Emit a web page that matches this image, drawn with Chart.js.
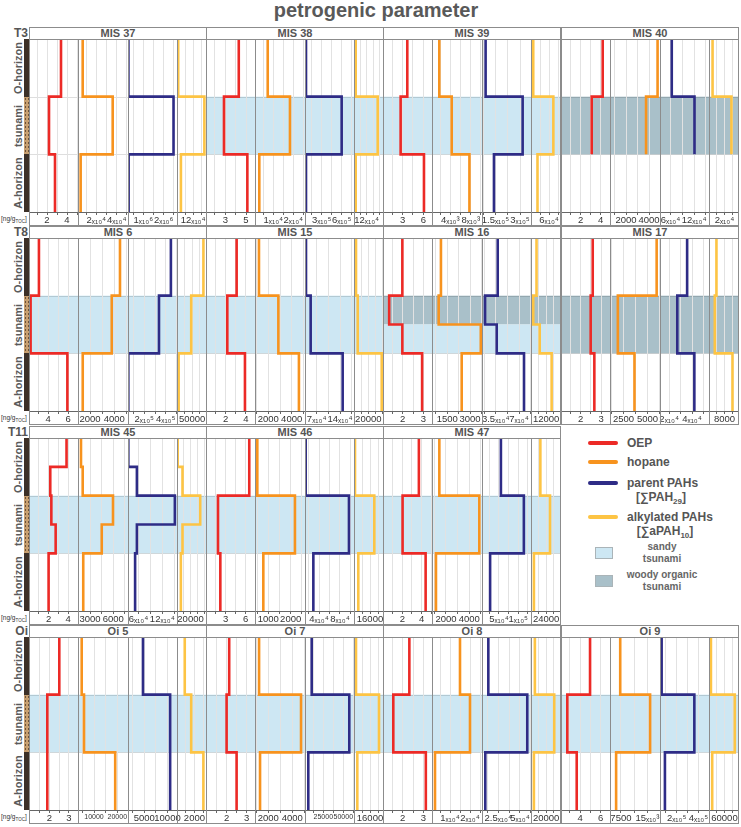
<!DOCTYPE html>
<html>
<head>
<meta charset="utf-8">
<script src="https://cdn.jsdelivr.net/npm/chart.js@4.4.1/dist/chart.umd.min.js"></script>
<style>
  body { margin: 0; background: #fff; font-family: "Liberation Sans", Arial, sans-serif; }
  #fig { position: relative; width: 741px; height: 827px; overflow: hidden; background: #fff; }
  #fig div { position: absolute; }
  canvas { position: absolute; }
  .frame { border: 1px solid #8c8c8c; box-sizing: border-box; z-index: 2; }
  .vline { width: 1px; background: #8c8c8c; z-index: 2; }
  .head { border: 1px solid #8c8c8c; box-sizing: border-box; background: #fff; z-index: 3;
          font-weight: bold; font-size: 11px; color: #555; text-align: center; line-height: 11px; }
  .rowlab { font-weight: bold; font-size: 12px; color: #555; text-align: right; width: 28px; left: 0; line-height: 12px; }
  .zone { font-weight: bold; font-size: 11px; color: #5a5a5a; white-space: nowrap;
          transform: translate(-50%, -50%) rotate(-90deg); }
  .unit { font-size: 6.5px; color: #333; left: 1px; white-space: nowrap; }
  .key { width: 30px; height: 4px; border-radius: 2px; left: 588px; }
  .ltxt { left: 627px; font-weight: bold; font-size: 12px; color: #555; line-height: 14px; white-space: nowrap; }
  .lsub { width: 100px; text-align: center; font-weight: bold; font-size: 12px; color: #555; line-height: 14px; }
  .lbox { left: 595px; width: 18px; height: 12px; border: 1px solid #aab4b8; box-sizing: border-box; }
  .lbtxt { left: 612px; width: 100px; text-align: center; font-weight: bold; font-size: 10px; color: #666; line-height: 12px; }
</style>
</head>
<body>
<div id="fig">
  <div style="left:0;top:-2px;width:752px;text-align:center;font-weight:bold;font-size:20px;color:#595959;line-height:24px;">petrogenic parameter</div>
</div>
<script>
// ================= DATA =================

const rowLabels = ["T3", "T8", "T11", "Oi"];
const panelTitles = [
  "MIS 37", "MIS 38", "MIS 39", "MIS 40",
  "MIS 6", "MIS 15", "MIS 16", "MIS 17",
  "MIS 45", "MIS 46", "MIS 47", null,
  "Oi 5", "Oi 7", "Oi 8", "Oi 9"
];
const zoneNames = ["O-horizon", "tsunami", "A-horizon"];
const seriesNames = ["OEP", "hopane", "parent PAHs", "alkylated PAHs"];

// depth in zone units: 0 top of O-horizon, 1 top of tsunami, 2 top of A-horizon, 3 bottom
const depthBreaks = [
  [0, 1, 2, 3], [0, 1, 2, 3], [0, 1, 2, 3], [0, 1, 2],
  [0, 1, 2, 3], [0, 1, 2, 3], [0, 1, 1.5, 2, 3], [0, 1, 2, 3],
  [0, 0.5, 1, 1.5, 2, 3], [0, 1, 2, 3], [0, 1, 2, 3], null,
  [0, 1, 2, 3], [0, 1, 2, 3], [0, 1, 2, 3], [0, 1, 2, 3]
];

const tsunamiLayers = [
  [], [[1, 2, "sandy"]], [[1, 2, "sandy"]], [[1, 2, "woody"]],
  [[1, 2, "sandy"]], [[1, 2, "sandy"]], [[1, 1.5, "woody"], [1.5, 2, "sandy"]], [[1, 2, "woody"]],
  [[1, 2, "sandy"]], [[1, 2, "sandy"]], [[1, 2, "sandy"]], null,
  [[1, 2, "sandy"]], [[1, 2, "sandy"]], [[1, 2, "sandy"]], [[1, 2, "sandy"]]
];

const oepValues = [
  [3.4, 2.2, 2.8], [4.3, 2.87, 5.13], [3.67, 2.7, 6.1], [4.2, 3.1],
  [3.07, 2.23, 5.93], [3.08, 2.16, 3.9], [1.98, 1.34, 1.98, 2.94], [2.59, 2.49, 2.67],
  [3.83, 2.17, 2.28, 2.72, 2.0], [6.54, 1.85, 2.2], [3.72, 2.03, 4.42], null,
  [2.51, 1.9, 1.9], [2.13, 2.0, 2.5], [2.32, 1.54, 3.12], [4.97, 2.77, 3.68]
];
const hopaneValues = [
  [6600, 36000, 4600], [7200, 18300, 3000], [1840, 4270, 7740], [4740, 3740],
  [4470, 3790, 1400], [1200, 2860, 4620], [1080, 930, 3710, 2450], [5960, 1900, 3640],
  [1840, 2060, 5960, 4510, 2130], [507, 2190, 776], [1430, 4860, 1140], null,
  [4720, 5710, 19100], [1230, 4730, 1310], [15000, 20000, 2500], [7300, 15750, 6140]
];
const parentPahValues = [
  [2.7e5, 2.48e6, 2.8e5], [6.5e4, 6.0e5, 6.5e4], [9.0e4, 3.16e5, 1.41e5], [6.3e4, 1.21e5],
  [4.48e5, 3.37e5, 5.1e4], [3.8e4, 5.2e4, 1.48e5], [3.8e4, 1.9e4, 3.65e4, 7.75e4], [3.57e4, 2.71e4, 4.2e4],
  [3.44e4, 5.6e4, 1.516e5, 5.6e4, 5.15e4], [1.46e4, 9.71e4, 2.92e4], [5.5e4, 1.145e5, 2.7e4], null,
  [4710, 10570, 10570], [10500, 57500, 6250], [1.35e4, 5.84e4, 1.0e4], [6.3e4, 3.62e5, 9.3e4]
];
const alkylPahValues = [
  [9000, 2.03e5, 2.9e4], [1.6e4, 2.24e5, 1.6e4], [7400, 7.4e4, 2.15e4], [4600, 2.9e4],
  [87000, 46800, 5400], [2800, 5200, 38700], [4360, 1760, 6880, 16300], [3850, 3000, 12150],
  [1000, 8140, 34300, 8140, 5710], [1000, 20300, 4300], [14800, 30100, 4600], null,
  [890, 1630, 3030], [2000, 25000, 3300], [5100, 30600, 3800], [7500, 100000, 12400]
];

// axis [min, max, grid step]
const oepRange = [
  [0.2, 5.1, 1], [1.13, 5.87, 1], [0.13, 7.27, 1.5], [0.03, 4.93, 1],
  [2.07, 7, 1], [0.06, 4.89, 1], [1.04, 3.42, 0.5], [1.03, 3.44, 0.5],
  [0, 5, 1], [0.05, 7.4, 1.5], [0, 5.08, 1], null,
  [0.97, 3.46, 0.5], [0.97, 3.42, 0.5], [1.04, 3.42, 0.5], [2.16, 6.9, 1]
];
const hopaneRange = [
  [2000, 51000, 10000], [850, 25800, 5000], [410, 10200, 2000], [610, 4950, 1000],
  [1010, 5130, 1000], [860, 5140, 1000], [490, 3790, 750], [1080, 6310, 1250],
  [1455, 7890, 1500], [404, 2640, 500], [800, 5090, 1000], null,
  [3130, 24590, 5000], [890, 5060, 1000], [1000, 26000, 5000], [4410, 18550, 3750]
];
const parentPahRange = [
  [2.5e5, 2.65e6, 5e5], [5e4, 7.85e5, 1.5e5], [6.8e4, 3.67e5, 7.5e4], [3.3e4, 1.58e5, 3e4],
  [4.8e4, 5.05e5, 1e5], [3.5e4, 1.82e5, 3.5e4], [1.44e4, 8.8e4, 1.75e4], [1.2e4, 5.48e4, 1e4],
  [3.36e4, 1.57e5, 3e4], [1.33e4, 1.067e5, 2e4], [6e3, 1.33e5, 2.5e4], null,
  [1480, 12050, 2500], [2130, 63380, 12500], [6200, 62700, 12500], [4.8e4, 4.96e5, 1e5]
];
const alkylPahRange = [
  [0, 2.15e5, 6e4], [0, 2.74e5, 6e4], [0, 9.6e4, 3e4], [0, 3.75e4, 1e4],
  [0, 95500, 25000], [0, 40500, 10000], [0, 22900, 6000], [0, 15000, 4000],
  [0, 42860, 10000], [0, 29000, 8000], [0, 45900, 12000], null,
  [0, 3330, 1000], [0, 29000, 8000], [0, 38200, 10000], [0, 112500, 30000]
];

// labelled ticks [value, text]
const oepTicks = [
  [[2, "2"], [4, "4"]], [[3, "3"], [5, "5"]], [[3, "3"], [6, "6"]], [[2, "2"], [4, "4"]],
  [[4, "4"], [6, "6"]], [[2, "2"], [4, "4"]], [[2, "2"], [3, "3"]], [[2, "2"], [3, "3"]],
  [[2, "2"], [4, "4"]], [[3, "3"], [6, "6"]], [[2, "2"], [4, "4"]], null,
  [[2, "2"], [3, "3"]], [[2, "2"], [3, "3"]], [[2, "2"], [3, "3"]], [[4, "4"], [6, "6"]]
];
const hopaneTicks = [
  [[2e4, "2ₓ₁₀⁴"], [4e4, "4ₓ₁₀⁴"]], [[1e4, "1ₓ₁₀⁴"], [2e4, "2ₓ₁₀⁴"]], [[4000, "4ₓ₁₀³"], [8000, "8ₓ₁₀³"]], [[2000, "2000"], [4000, "4000"]],
  [[2000, "2000"], [4000, "4000"]], [[2000, "2000"], [4000, "4000"]], [[1500, "1500"], [3000, "3000"]], [[2500, "2500"], [5000, "5000"]],
  [[3000, "3000"], [6000, "6000"]], [[1000, "1000"], [2000, "2000"]], [[2000, "2000"], [4000, "4000"]], null,
  [[10000, "10000"], [20000, "20000"]], [[2000, "2000"], [4000, "4000"]], [[1e4, "1ₓ₁₀⁴"], [2e4, "2ₓ₁₀⁴"]], [[7500, "7500"], [15000, "15ₓ₁₀³"]]
];
const parentPahTicks = [
  [[1e6, "1ₓ₁₀⁶"], [2e6, "2ₓ₁₀⁶"]], [[3e5, "3ₓ₁₀⁵"], [6e5, "6ₓ₁₀⁵"]], [[1.5e5, "1.5ₓ₁₀⁵"], [3e5, "3ₓ₁₀⁵"]], [[6e4, "6ₓ₁₀⁴"], [1.2e5, "12ₓ₁₀⁴"]],
  [[2e5, "2ₓ₁₀⁵"], [4e5, "4ₓ₁₀⁵"]], [[7e4, "7ₓ₁₀⁴"], [1.4e5, "14ₓ₁₀⁴"]], [[3.5e4, "3.5ₓ₁₀⁴"], [7e4, "7ₓ₁₀⁴"]], [[2e4, "2ₓ₁₀⁴"], [4e4, "4ₓ₁₀⁴"]],
  [[6e4, "6ₓ₁₀⁴"], [1.2e5, "12ₓ₁₀⁴"]], [[4e4, "4ₓ₁₀⁴"], [8e4, "8ₓ₁₀⁴"]], [[5e4, "5ₓ₁₀⁴"], [1e5, "1ₓ₁₀⁵"]], null,
  [[5000, "5000"], [10000, "10000"]], [[25000, "25000"], [50000, "50000"]], [[2.5e4, "2.5ₓ₁₀⁴"], [5e4, "5ₓ₁₀⁴"]], [[2e5, "2ₓ₁₀⁵"], [4e5, "4ₓ₁₀⁵"]]
];
const alkylPahTicks = [
  [[1.2e5, "12ₓ₁₀⁴"]], [[1.2e5, "12ₓ₁₀⁴"]], [[6e4, "6ₓ₁₀⁴"]], [[2e4, "2ₓ₁₀⁴"]],
  [[50000, "50000"]], [[20000, "20000"]], [[12000, "12000"]], [[8000, "8000"]],
  [[20000, "20000"]], [[16000, "16000"]], [[24000, "24000"]], null,
  [[2000, "2000"]], [[16000, "16000"]], [[20000, "20000"]], [[60000, "60000"]]
];

// ================= STYLE / LAYOUT =================

const seriesColors = ["#ec2a26", "#f7931e", "#2e2c86", "#fdc444"];
const layerColors = { sandy: "#cde7f3", woody: "#a9c0c9" };
const SMALL_TICKS = { "12-1": 7, "13-2": 7 };

const ROW_TOP = [27, 226, 426, 625];
const HEAD_H = 12, PLOT_H = 173, AXIS_H = 13;
const PANEL_LEFT = [29, 206, 383, 561];
const SUB_EDGES = [0, 49, 99, 148, 177];
const PAD = 14;

Chart.defaults.font.family = '"Liberation Sans", Arial, sans-serif';

const fig = document.getElementById("fig");

function addDiv(cls, style, html) {
  const d = document.createElement("div");
  if (cls) d.className = cls;
  Object.assign(d.style, style);
  if (html !== undefined) d.innerHTML = html;
  fig.appendChild(d);
  return d;
}

function stepPoints(breaks, values) {
  const pts = [];
  values.forEach((v, i) => {
    pts.push({ x: v, y: breaks[i] }, { x: v, y: breaks[i + 1] });
  });
  return pts;
}

function makeLayerPlugin(layers) {
  return {
    id: "layers",
    beforeDraw(chart) {
      const { ctx, chartArea: a, scales: { y } } = chart;
      ctx.save();
      layers.forEach(([d0, d1, kind]) => {
        const y0 = y.getPixelForValue(d0), y1 = y.getPixelForValue(d1);
        ctx.fillStyle = layerColors[kind];
        ctx.fillRect(a.left, y0, a.right - a.left, y1 - y0);
      });
      ctx.strokeStyle = "rgba(0,0,0,0.13)";
      ctx.lineWidth = 1;
      [1, 2].forEach(d => {
        const yy = Math.round(y.getPixelForValue(d)) + 0.5;
        ctx.beginPath();
        ctx.moveTo(a.left, yy);
        ctx.lineTo(a.right, yy);
        ctx.stroke();
      });
      ctx.restore();
    }
  };
}

// ================= ROWS =================

const seriesValues = [oepValues, hopaneValues, parentPahValues, alkylPahValues];
const seriesRanges = [oepRange, hopaneRange, parentPahRange, alkylPahRange];
const seriesTicks = [oepTicks, hopaneTicks, parentPahTicks, alkylPahTicks];

rowLabels.forEach((lab, r) => {
  const plotTop = ROW_TOP[r] + HEAD_H;
  addDiv("rowlab", { top: ROW_TOP[r] + "px" }, lab);
  addDiv("unit", { top: (plotTop + PLOT_H + 3) + "px" }, "[ng/g<sub style='font-size:4.5px'>TOC</sub>]");
  zoneNames.forEach((z, i) => {
    const h = PLOT_H / 3;
    addDiv("zone", { left: "18px", top: (plotTop + (i + 0.5) * h) + "px" }, z);
    addDiv("", {
      left: "24px", width: "5px", top: (plotTop + i * h) + "px", height: h + "px",
      background: i === 1
        ? "radial-gradient(circle, #6b5038 0.5px, transparent 0.9px) 0 0 / 3px 4px, #c79f70"
        : "#3c3028"
    });
  });
});

// ================= PANELS =================

panelTitles.forEach((title, p) => {
  if (!title) return;
  const r = Math.floor(p / 4), c = p % 4;
  const plotTop = ROW_TOP[r] + HEAD_H;
  const left = PANEL_LEFT[c];

  addDiv("head", { left: left + "px", top: ROW_TOP[r] + "px", width: "178px", height: (HEAD_H + 1) + "px" }, title);
  addDiv("frame", { left: left + "px", top: plotTop + "px", width: "178px", height: (PLOT_H + AXIS_H + 1) + "px" });

  seriesNames.forEach((name, s) => {
    const colLeft = left + SUB_EDGES[s];
    const colW = SUB_EDGES[s + 1] - SUB_EDGES[s];
    if (s > 0) addDiv("vline", { left: colLeft + "px", top: plotTop + "px", height: (PLOT_H + AXIS_H) + "px" });

    const [min, max, step] = seriesRanges[s][p];
    const labels = seriesTicks[s][p];
    const fontSize = SMALL_TICKS[p + "-" + s] || 9.5;

    const canvas = document.createElement("canvas");
    const w = colW + 2 * PAD, h = PLOT_H + 16;
    canvas.width = w;
    canvas.height = h;
    canvas.style.left = (colLeft - PAD) + "px";
    canvas.style.top = plotTop + "px";
    canvas.style.width = w + "px";
    canvas.style.height = h + "px";
    canvas.style.zIndex = 1;
    fig.appendChild(canvas);

    new Chart(canvas, {
      type: "scatter",
      data: {
        datasets: [{
          label: name,
          data: stepPoints(depthBreaks[p], seriesValues[s][p]),
          showLine: true,
          borderColor: seriesColors[s],
          borderWidth: 2.6,
          borderJoinStyle: "miter",
          borderCapStyle: "butt",
          pointRadius: 0
        }]
      },
      options: {
        responsive: false,
        animation: false,
        events: [],
        layout: { padding: { left: PAD, right: PAD, top: 0, bottom: 0 } },
        plugins: { legend: { display: false }, tooltip: { enabled: false } },
        scales: {
          x: {
            type: "linear",
            position: "bottom",
            min: min,
            max: max,
            afterBuildTicks: scale => {
              const ticks = [];
              const start = Math.ceil(min / step - 1e-9);
              for (let i = start; i * step <= max + 1e-9; i++) ticks.push({ value: i * step });
              scale.ticks = ticks;
            },
            afterFit: scale => {
              scale.height = 16;
              scale.paddingLeft = 0;
              scale.paddingRight = 0;
            },
            grid: { color: "#e2e2e2", lineWidth: 1, drawTicks: true, tickLength: 3, tickColor: "#666" },
            border: { display: true, color: "#666", width: 1 },
            ticks: {
              autoSkip: false,
              maxRotation: 0,
              minRotation: 0,
              padding: 0,
              color: "#333",
              font: { size: fontSize },
              callback: value => {
                const hit = labels.find(l => Math.abs(l[0] - value) < step * 1e-3);
                return hit ? hit[1] : "";
              }
            }
          },
          y: { type: "linear", min: 0, max: 3, reverse: true, display: false }
        }
      },
      plugins: [makeLayerPlugin(tsunamiLayers[p])]
    });
  });
});

// ================= LEGEND =================

const legendY = [443, 462, 483, 517];
seriesNames.forEach((name, s) => {
  addDiv("key", { top: (legendY[s] - 2) + "px", background: seriesColors[s] });
  addDiv("ltxt", { top: (legendY[s] - 7) + "px" }, name);
});
addDiv("lsub", { left: "611px", top: "490px" }, "[∑PAH<sub style='font-size:8px'>29</sub>]");
addDiv("lsub", { left: "615px", top: "524px" }, "[∑aPAH<sub style='font-size:8px'>10</sub>]");
addDiv("lbox", { top: "547px", background: layerColors.sandy });
addDiv("lbtxt", { top: "541px" }, "sandy<br>tsunami");
addDiv("lbox", { top: "575px", background: layerColors.woody });
addDiv("lbtxt", { top: "569px" }, "woody organic<br>tsunami");
</script>
</body>
</html>
